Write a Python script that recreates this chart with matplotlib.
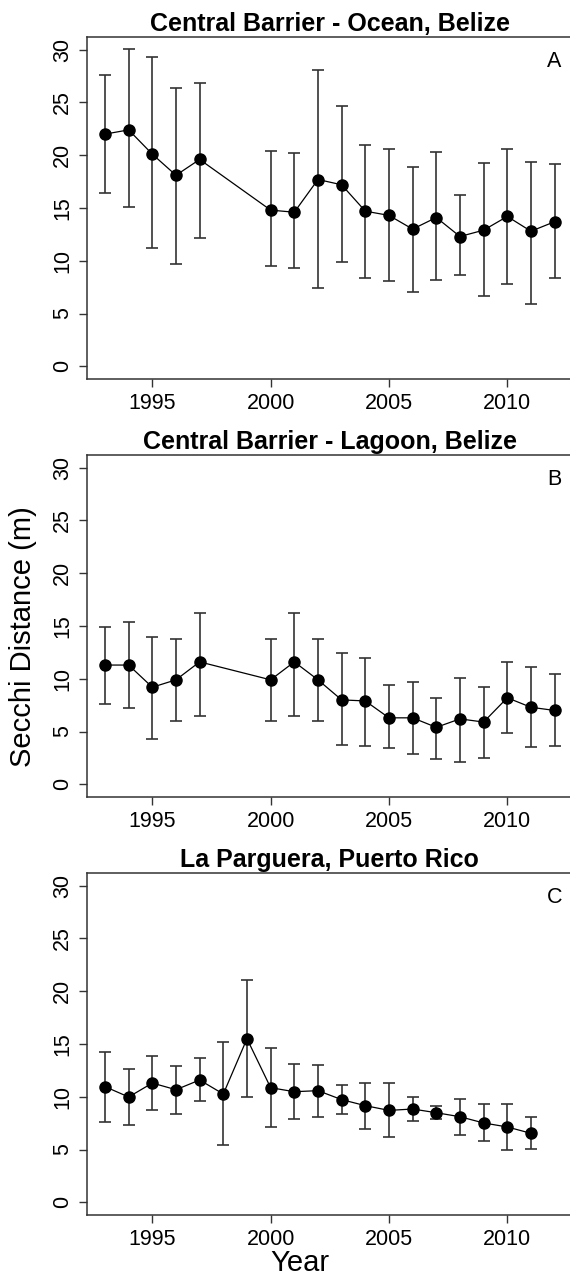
import matplotlib

matplotlib.use("Agg")
import matplotlib.pyplot as plt

plt.rcParams["font.family"] = ["Liberation Sans", "DejaVu Sans"]

# Panel A: Central Barrier - Ocean, Belize
years_a = [1993, 1994, 1995, 1996, 1997, 2000, 2001, 2002, 2003, 2004,
           2005, 2006, 2007, 2008, 2009, 2010, 2011, 2012]
mean_a = [22.0, 22.4, 20.1, 18.1, 19.6, 14.8, 14.6, 17.7, 17.2, 14.7,
          14.3, 13.0, 14.1, 12.3, 12.9, 14.2, 12.8, 13.7]
upper_a = [27.6, 30.1, 29.3, 26.4, 26.8, 20.4, 20.2, 28.1, 24.7, 21.0,
           20.6, 18.9, 20.3, 16.2, 19.3, 20.6, 19.4, 19.2]
lower_a = [16.4, 15.1, 11.2, 9.7, 12.2, 9.5, 9.3, 7.4, 9.9, 8.4,
           8.1, 7.0, 8.2, 8.7, 6.7, 7.8, 5.9, 8.4]

# Panel B: Central Barrier - Lagoon, Belize
years_b = years_a
mean_b = [11.3, 11.3, 9.2, 9.9, 11.6, 9.9, 11.6, 9.9, 8.0, 7.9,
          6.3, 6.3, 5.4, 6.2, 5.9, 8.2, 7.3, 7.0]
upper_b = [14.9, 15.4, 14.0, 13.8, 16.2, 13.8, 16.2, 13.8, 12.4, 12.0,
           9.4, 9.7, 8.2, 10.1, 9.2, 11.6, 11.1, 10.5]
lower_b = [7.6, 7.2, 4.3, 6.0, 6.5, 6.0, 6.5, 6.0, 3.7, 3.6,
           3.4, 2.9, 2.4, 2.1, 2.5, 4.9, 3.5, 3.6]

# Panel C: La Parguera, Puerto Rico
years_c = list(range(1993, 2012))
mean_c = [10.96, 9.98, 11.3, 10.67, 11.59, 10.26, 15.5, 10.86, 10.48, 10.58,
          9.73, 9.16, 8.71, 8.84, 8.49, 8.11, 7.52, 7.14, 6.54]
upper_c = [14.24, 12.63, 13.83, 12.95, 13.67, 15.22, 21.1, 14.62, 13.07, 13.04,
           11.08, 11.34, 11.34, 9.95, 9.13, 9.82, 9.28, 9.28, 8.05]
lower_c = [7.64, 7.33, 8.78, 8.37, 9.6, 5.43, 9.95, 7.17, 7.93, 8.08,
           8.34, 6.98, 6.16, 7.67, 7.93, 6.38, 5.78, 4.99, 5.02]

panels = [
    ("Central Barrier - Ocean, Belize", "A", years_a, mean_a, lower_a, upper_a),
    ("Central Barrier - Lagoon, Belize", "B", years_b, mean_b, lower_b, upper_b),
    ("La Parguera, Puerto Rico", "C", years_c, mean_c, lower_c, upper_c),
]

W, H = 570, 1275
LEFT, RIGHT = 87, 572.6
PANEL_PX = [(37, 379), (455, 797), (873, 1215)]

fig = plt.figure(figsize=(W / 100, H / 100), dpi=100)
spine_col = "#333333"

for (title, tag, yrs, m, lo, hi), (top, bot) in zip(panels, PANEL_PX):
    ax = fig.add_axes([LEFT / W, 1 - bot / H, (RIGHT - LEFT) / W, (bot - top) / H])
    err = [[mi - l for mi, l in zip(m, lo)], [h - mi for mi, h in zip(m, hi)]]
    ax.errorbar(yrs, m, yerr=err, fmt="none", ecolor="#333333", elinewidth=1.2,
                capsize=4.3, capthick=1.2, zorder=2)
    ax.plot(yrs, m, color="black", lw=0.9, marker="o", ms=8, zorder=3)
    ax.set_xlim(1992.24, 2012.76)
    ax.set_ylim(-1.2, 31.2)
    ax.set_xticks([1995, 2000, 2005, 2010])
    ax.set_yticks([0, 5, 10, 15, 20, 25, 30])
    ax.tick_params(axis="both", labelsize=15.5, length=6, width=1, color=spine_col, pad=4)
    for lab in ax.get_yticklabels():
        lab.set_rotation(90)
        lab.set_va("center")
    ax.spines["right"].set_visible(False)
    for s in ("left", "top", "bottom"):
        ax.spines[s].set_color(spine_col)
        ax.spines[s].set_linewidth(1.1)
    ax.set_title(title, fontsize=18, fontweight="bold", pad=4)
    ax.text(0.962, 0.927, tag, transform=ax.transAxes, fontsize=15.5,
            ha="center", va="center")

fig.text(23 / W, 1 - 636.5 / H, "Secchi Distance (m)", rotation=90,
         fontsize=21, ha="center", va="center")
fig.text(300 / W, 1 - 1263 / H, "Year", fontsize=21, ha="center", va="center")

fig.savefig("out.png", dpi=100)
